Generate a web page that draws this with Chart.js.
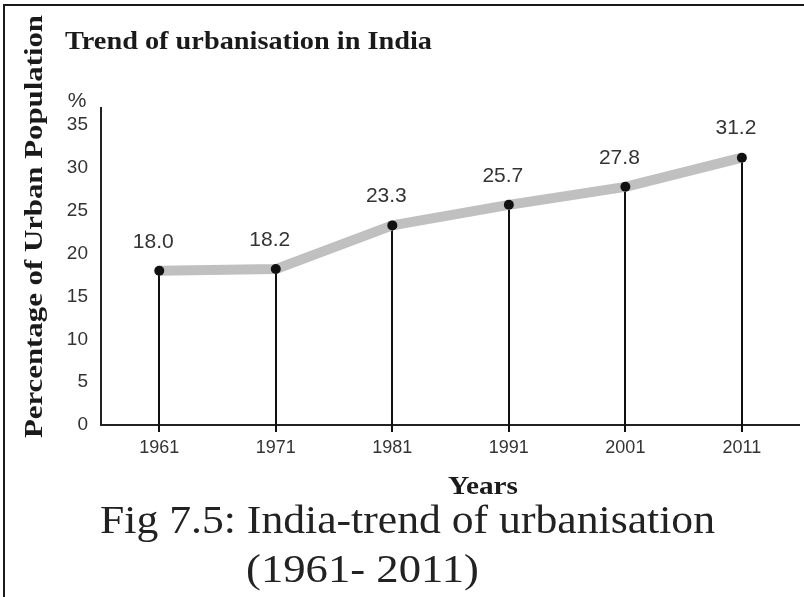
<!DOCTYPE html>
<html>
<head>
<meta charset="utf-8">
<script src="https://cdn.jsdelivr.net/npm/chart.js@4.4.0/dist/chart.umd.min.js"></script>
<style>
html, body { margin: 0; padding: 0; background: #fff; }
#wrap { width: 804px; height: 597px; }
</style>
</head>
<body>
<div id="wrap"><canvas id="trendCanvas" width="804" height="597"></canvas></div>
<script>
var Years = [1961, 1971, 1981, 1991, 2001, 2011]
var UrbanShare = [18.0, 18.2, 23.3, 25.7, 27.8, 31.2]
var PercentTicks = [0, 5, 10, 15, 20, 25, 30, 35]
var ChartTitle = 'Trend of urbanisation in India'
var YTitle = 'Percentage of Urban Population'
var XTitle = 'Years'
var Caption = ['Fig 7.5: India-trend of urbanisation', '(1961- 2011)']

// draw text squeezed/stretched to a given width, left edge at x
function fitText(ctx, text, x, y, width, font, color) {
    ctx.save();
    ctx.font = font;
    ctx.fillStyle = color;
    ctx.textAlign = 'left';
    ctx.textBaseline = 'alphabetic';
    var w = ctx.measureText(text).width;
    ctx.translate(x, y);
    ctx.scale(width / w, 1);
    ctx.fillText(text, 0, 0);
    ctx.restore();
}

var decor = {
    id: 'decor',
    beforeDraw: function(chart) {
        var ctx = chart.ctx;
        ctx.save();
        ctx.fillStyle = '#fff';
        ctx.fillRect(0, 0, chart.width, chart.height);
        // frame (top + left only)
        ctx.fillStyle = '#1a1a1a';
        ctx.fillRect(3, 4, 801, 2);
        ctx.fillRect(3, 4, 2, 593);
        ctx.restore();
    },
    beforeDatasetsDraw: function(chart) {
        // drop lines from each point to just below the axis
        var ctx = chart.ctx;
        var bottom = chart.chartArea.bottom + 7;
        ctx.save();
        ctx.strokeStyle = '#111';
        ctx.lineWidth = 2;
        chart.getDatasetMeta(0).data.forEach(function(p) {
            ctx.beginPath();
            ctx.moveTo(Math.round(p.x), p.y);
            ctx.lineTo(Math.round(p.x), bottom);
            ctx.stroke();
        });
        ctx.restore();
    },
    afterDatasetsDraw: function(chart) {
        var ctx = chart.ctx;
        ctx.save();
        ctx.font = '21px "Liberation Sans", Arial, sans-serif';
        ctx.fillStyle = '#333';
        ctx.textAlign = 'center';
        ctx.textBaseline = 'middle';
        chart.getDatasetMeta(0).data.forEach(function(p, i) {
            ctx.fillText(UrbanShare[i].toFixed(1), p.x - 6, p.y - 29);
        });
        ctx.fillText('%', 77, 101);
        ctx.restore();

        var serifBold = 'bold 26px "Liberation Serif", "Times New Roman", serif';
        fitText(ctx, ChartTitle, 65, 49, 367, serifBold, '#1a1a1a');
        fitText(ctx, XTitle, 448, 494, 70, serifBold, '#1a1a1a');

        ctx.save();
        ctx.translate(42, 438);
        ctx.rotate(-Math.PI / 2);
        fitText(ctx, YTitle, 0, 0, 423, serifBold, '#1a1a1a');
        ctx.restore();

        var serif = '40px "Liberation Serif", "Times New Roman", serif';
        fitText(ctx, Caption[0], 100, 533, 615, serif, '#222');
        fitText(ctx, Caption[1], 246, 582, 233, serif, '#222');
    }
};

var mychart = new Chart(document.getElementById('trendCanvas'), {
    type: 'line',
    data: {
        datasets: [{
            data: Years.map(function(y, i) { return { x: y, y: UrbanShare[i] }; }),
            borderColor: '#c0c0c0',
            borderWidth: 10,
            borderJoinStyle: 'round',
            tension: 0,
            pointRadius: 5,
            pointBackgroundColor: '#111',
            pointBorderWidth: 0
        }]
    },
    options: {
        responsive: false,
        animation: false,
        layout: { padding: { top: 108, left: 0, right: 0, bottom: 132 } },
        plugins: { legend: { display: false }, tooltip: { enabled: false } },
        scales: {
            x: {
                type: 'linear',
                min: 1956,
                max: 2015.9,
                afterBuildTicks: function(s) { s.ticks = Years.map(function(v) { return { value: v }; }); },
                afterFit: function(s) { s.height = 40; },
                grid: { display: false, drawTicks: false },
                border: { color: '#222', width: 2 },
                ticks: {
                    padding: 12,
                    color: '#333',
                    font: { family: '"Liberation Sans", Arial, sans-serif', size: 18 },
                    callback: function(v) { return String(v); }
                }
            },
            y: {
                min: 0,
                max: 37,
                afterBuildTicks: function(s) { s.ticks = PercentTicks.map(function(v) { return { value: v }; }); },
                afterFit: function(s) { s.width = 101; },
                grid: { display: false, drawTicks: false },
                border: { color: '#222', width: 2 },
                ticks: {
                    padding: 13,
                    color: '#333',
                    font: { family: '"Liberation Sans", Arial, sans-serif', size: 19 }
                }
            }
        }
    },
    plugins: [decor]
});
</script>
</body>
</html>
